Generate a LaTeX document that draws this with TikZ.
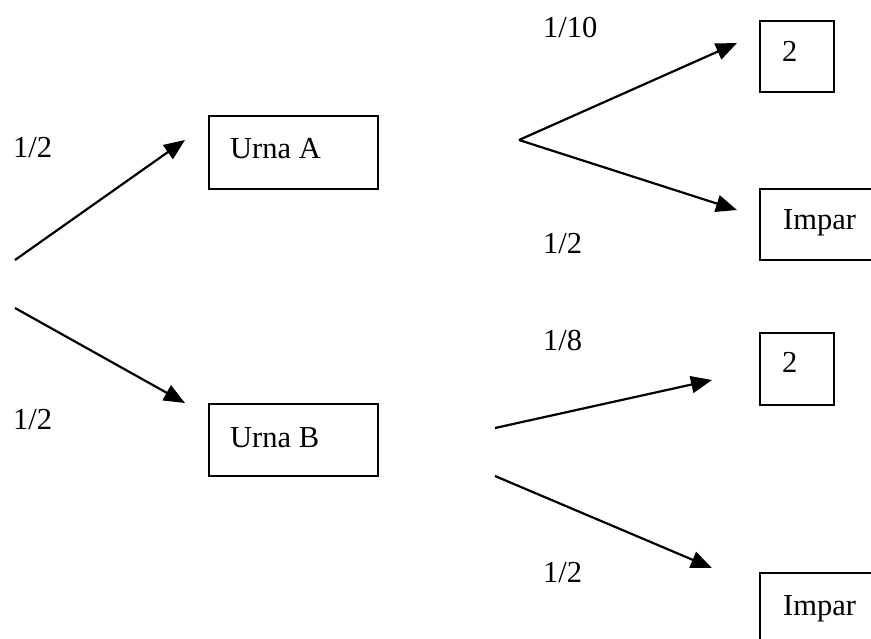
\documentclass[tikz,border=0pt]{standalone}
\usepackage{fontspec}
\setmainfont{Liberation Serif}
\usetikzlibrary{arrows.meta}
\tikzset{
  box/.style={draw=black, line width=1.8pt, rectangle, inner sep=0pt, anchor=north west},
  lbl/.style={anchor=base west, inner sep=0pt, font=\fontsize{30.5}{36}\selectfont},
  arr/.style={line width=2.2pt, -{Triangle[length=21pt,width=17pt]}}
}
\begin{document}
\begin{tikzpicture}[x=1pt, y=-1pt]
\useasboundingbox (0,0) rectangle (871,638);
% boxes
\node[box, minimum width=169pt, minimum height=73pt] (ua) at (208,115) {};
\node[box, minimum width=169pt, minimum height=72pt] (ub) at (208,403) {};
\node[box, minimum width=74pt, minimum height=71pt] (d1) at (759,20) {};
\node[box, minimum width=74pt, minimum height=72pt] (d2) at (759,332) {};
\node[box, minimum width=130pt, minimum height=71pt] (i1) at (759,188) {};
\node[box, minimum width=130pt, minimum height=90pt] (i2) at (759,572) {};
% box texts
\node[lbl] (uaT) at (230,158) {Urna A};
\node[lbl] (ubT) at (230,447) {Urna B};
\node[lbl] (d1T) at (782,61) {2};
\node[lbl] (d2T) at (782,372) {2};
\node[lbl] (i1T) at (783,229) {Impar};
\node[lbl] (i2T) at (783,615) {Impar};
% probability labels
\node[lbl] (p1) at (13,157) {1/2};
\node[lbl] (p2) at (13,429) {1/2};
\node[lbl] (p3) at (543,37) {1/10};
\node[lbl] (p4) at (543,253) {1/2};
\node[lbl] (p5) at (543,350) {1/8};
\node[lbl] (p6) at (543,582) {1/2};
% connector end points
\coordinate (s1) at (15,260);
\coordinate (e1) at (185,140);
\coordinate (s2) at (15,308);
\coordinate (e2) at (185,403);
\coordinate (va) at (519,140);
\coordinate (e3) at (737,43);
\coordinate (e4) at (737,210);
\coordinate (s5) at (495,428);
\coordinate (e5) at (712,380);
\coordinate (s6) at (495,476);
\coordinate (e6) at (712,568);
% arrows
\draw[arr] (s1) -- (e1);
\draw[arr] (s2) -- (e2);
\draw[arr] (va) -- (e3);
\draw[arr] (va) -- (e4);
\draw[arr] (s5) -- (e5);
\draw[arr] (s6) -- (e6);
\end{tikzpicture}
\end{document}
